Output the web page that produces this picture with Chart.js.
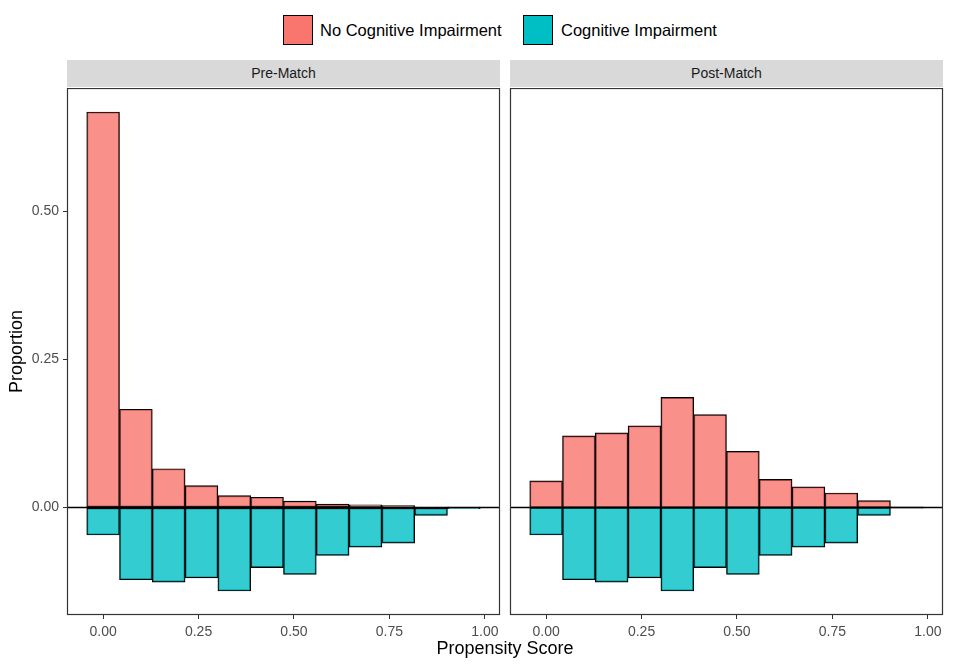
<!DOCTYPE html>
<html>
<head>
<meta charset="utf-8">
<script src="https://cdn.jsdelivr.net/npm/chart.js@4.4.1/dist/chart.umd.min.js"></script>
<style>
  body { margin: 0; background: #fff; font-family: "Liberation Sans", Arial, sans-serif; }
  #wrap { position: relative; width: 957px; height: 671px; overflow: hidden; }
  canvas { position: absolute; }
  .strip { position: absolute; top: 60px; height: 27px; background: #d9d9d9; color: #1a1a1a;
           font-size: 14px; line-height: 27px; text-align: center; }
  .legend { position: absolute; top: 15px; left: 0; width: 957px; height: 30px; font-size: 16.5px; color: #000; }
  .key { position: absolute; top: 0; width: 30px; height: 30px; border: 1.5px solid #000; box-sizing: border-box; }
  .ltxt { position: absolute; top: 6px; white-space: nowrap; }
  #xtitle { position: absolute; top: 638px; left: 0; width: 1010px; text-align: center; font-size: 18px; color: #000; }
</style>
</head>
<body>
<div id="wrap">
  <div class="legend">
    <div class="key" style="left:283px;background:#f8766d"></div>
    <div class="ltxt" style="left:320px">No Cognitive Impairment</div>
    <div class="key" style="left:523px;background:#00bfc4"></div>
    <div class="ltxt" style="left:561px">Cognitive Impairment</div>
  </div>
  <div class="strip" style="left:67px;width:433px">Pre-Match</div>
  <div class="strip" style="left:510px;width:433px">Post-Match</div>
  <canvas id="pre" width="505" height="560" style="left:0;top:88px"></canvas>
  <canvas id="post" width="452" height="560" style="left:505px;top:88px"></canvas>
  <div id="xtitle">Propensity Score</div>
</div>
<script>
// histogram bin centres (propensity score)
const binCenters = [0.000, 0.0859, 0.1718, 0.2577, 0.3436, 0.4295, 0.5154, 0.6013, 0.6872, 0.7731, 0.8590, 0.9449];

// proportions
const preNoCI  = [0.668, 0.166, 0.0655, 0.037, 0.020, 0.0174, 0.011, 0.0058, 0.0046, 0.0035, 0.0008, 0.0003];
const preCI    = [0.0464, 0.122, 0.126, 0.119, 0.141, 0.1015, 0.113, 0.081, 0.067, 0.060, 0.0133, 0.002];
const postNoCI = [0.045, 0.121, 0.126, 0.138, 0.186, 0.157, 0.095, 0.0475, 0.035, 0.0246, 0.0117, 0.0012];
const postCI   = [0.0464, 0.122, 0.126, 0.119, 0.141, 0.1015, 0.113, 0.081, 0.067, 0.060, 0.0133, 0.0012];

const xTicks = [0, 0.25, 0.5, 0.75, 1];
const yTicks = [0, 0.25, 0.5];

const FONT = '"Liberation Sans", Arial, sans-serif';

// panel border + zero line on top of bars
const panelFrame = {
  id: 'panelFrame',
  afterDatasetsDraw(chart) {
    const { ctx, chartArea: a, scales } = chart;
    const y0 = scales.y.getPixelForValue(0);
    ctx.save();
    ctx.strokeStyle = '#000';
    ctx.lineWidth = 1.6;
    ctx.beginPath();
    ctx.moveTo(a.left, y0);
    ctx.lineTo(a.right, y0);
    ctx.stroke();
    ctx.strokeStyle = '#333';
    ctx.lineWidth = 1.2;
    ctx.strokeRect(a.left + 0.5, a.top + 0.5, a.width - 1, a.height - 1);
    ctx.restore();
  }
};

function makePanel(id, noCI, ci, showY) {
  const ds = (vals, sign, color) => ({
    data: binCenters.map((x, i) => ({ x: x, y: sign * vals[i] })),
    backgroundColor: color,
    borderColor: '#000',
    borderWidth: 1.2,
    borderSkipped: false,
    grouped: false,
    barPercentage: 1,
    categoryPercentage: 1
  });

  return new Chart(document.getElementById(id), {
    type: 'bar',
    data: {
      datasets: [
        ds(noCI, 1, 'rgba(248,118,109,0.8)'),
        ds(ci, -1, 'rgba(0,191,196,0.8)')
      ]
    },
    options: {
      responsive: false,
      animation: false,
      events: [],
      layout: { padding: showY ? { left: 0, right: 5, top: 0, bottom: 0 } : { left: 5, right: 14, top: 0, bottom: 0 } },
      plugins: { legend: { display: false }, tooltip: { enabled: false } },
      scales: {
        x: {
          type: 'linear',
          offset: false,
          min: -0.0946,
          max: 1.0396,
          afterBuildTicks: s => { s.ticks = xTicks.map(v => ({ value: v })); },
          afterFit: s => { s.height = 33; s.paddingLeft = 0; s.paddingRight = 0; },
          grid: { offset: false, drawOnChartArea: false, drawTicks: true, tickLength: 4, tickColor: '#333', color: '#333' },
          border: { display: false },
          ticks: { color: '#4d4d4d', font: { family: FONT, size: 14 }, padding: 5, maxRotation: 0,
                   callback: v => v.toFixed(2) }
        },
        y: {
          display: showY,
          min: -0.1815,
          max: 0.7085,
          afterBuildTicks: s => { s.ticks = yTicks.map(v => ({ value: v })); },
          afterFit: s => { s.width = showY ? 67 : 0; s.paddingTop = 0; s.paddingBottom = 0; },
          grid: { drawOnChartArea: false, drawTicks: true, tickLength: 4, tickColor: '#333', color: '#333' },
          border: { display: false },
          title: { display: true, text: 'Proportion', color: '#000', font: { family: FONT, size: 18 }, padding: { top: 6, bottom: 0 } },
          ticks: { color: '#4d4d4d', font: { family: FONT, size: 14 }, padding: 4,
                   callback: v => v.toFixed(2) }
        }
      }
    },
    plugins: [panelFrame]
  });
}

makePanel('pre', preNoCI, preCI, true);
makePanel('post', postNoCI, postCI, false);
</script>
</body>
</html>
